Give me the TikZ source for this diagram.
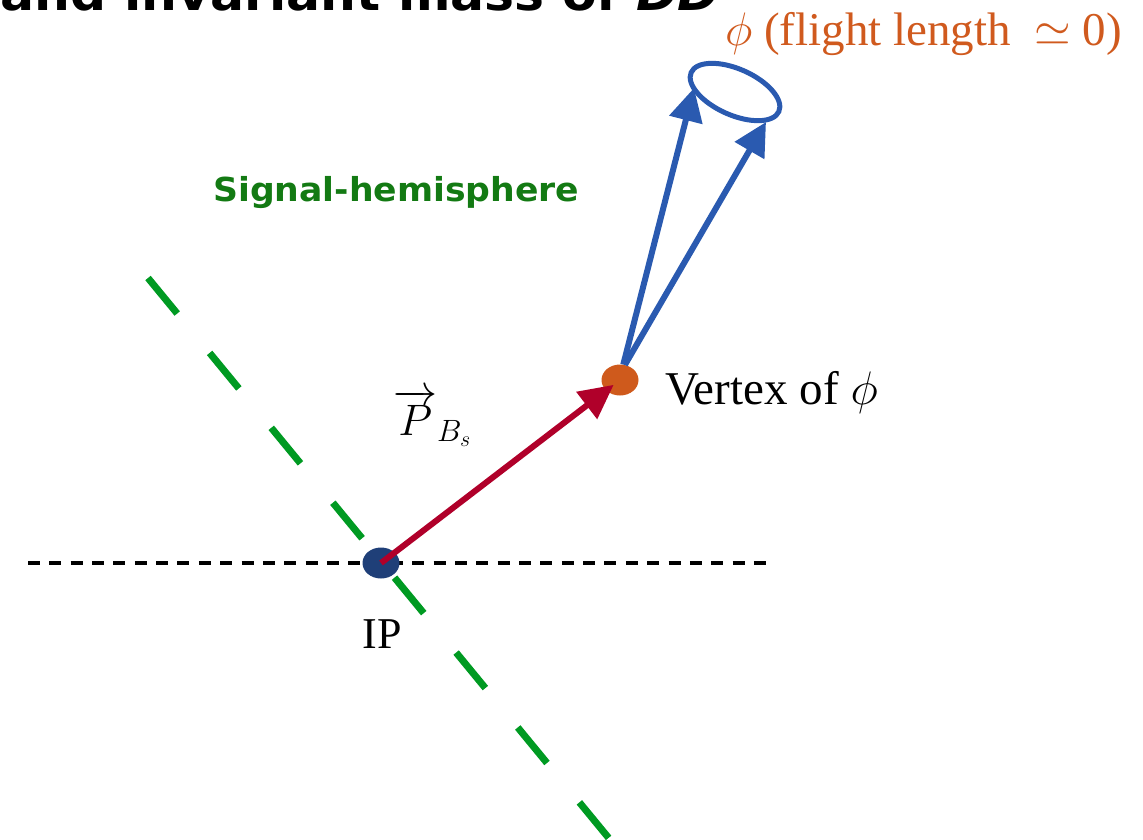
\RequirePackage{fix-cm}
\documentclass[tikz,border=0pt]{standalone}
\usepackage{fontspec}
\setmainfont{Liberation Serif}
\newfontfamily\comic[FakeStretch=1.05]{DejaVu Sans}
\usetikzlibrary{arrows.meta,shapes.geometric}
\definecolor{navydot}{HTML}{1F3F78}
\definecolor{orangedot}{HTML}{CF5A1C}
\definecolor{orangetxt}{HTML}{D05A1E}
\definecolor{redarr}{HTML}{B0002A}
\definecolor{bluearr}{HTML}{2A5AB0}
\definecolor{greenline}{HTML}{009A22}
\definecolor{greentxt}{HTML}{137A13}
\tikzset{
  dotnode/.style={ellipse, minimum width=37pt, minimum height=31pt, inner sep=0pt},
  bigtext/.style={font=\fontsize{47}{54}\selectfont, inner sep=0pt},
  redarrow/.style={draw=redarr, line width=6pt, -{Triangle[length=34pt,width=33pt]}},
  bluearrow/.style={draw=bluearr, line width=6pt, -{Triangle[length=33pt,width=33pt]}},
  conering/.style={ellipse, draw=bluearr, line width=5pt, minimum width=96pt, minimum height=46pt, inner sep=0pt},
  greendash/.style={draw=greenline, line width=7pt, dash pattern=on 46pt off 51pt},
  blackdash/.style={draw=black, line width=4pt, dash pattern=on 12pt off 9.35pt},
}
\begin{document}
\begin{tikzpicture}[x=1pt,y=-1pt]
\useasboundingbox (0,0) rectangle (1143,839);
\begin{scope}
\clip (0,0) rectangle (1143,839);
\node[anchor=base east, inner sep=0pt, font=\comic\bfseries\fontsize{48}{54}\selectfont] (title) at (720,10) {and invariant mass of \textit{DD}};
% reference lines
\coordinate (h1) at (28,563);
\coordinate (h2) at (766,563);
\draw[blackdash] (h1) -- (h2);
\coordinate (g1) at (148,278);
\coordinate (g2) at (612,842);
\draw[greendash] (g1) -- (g2);
\end{scope}
% dots
\node[dotnode, fill=navydot] (ip) at (381,563) {};
\node[dotnode, fill=orangedot] (vtx) at (620,380) {};
% cone ellipse
\node[conering, rotate=-24] (cone) at (735,92) {};
\coordinate (tipL) at (694,88);
\coordinate (tipR) at (766,122);
% arrows
\draw[redarrow, shorten >=8pt] (ip.center) -- (vtx.center);
\draw[bluearrow] (vtx.78) -- (tipL);
\draw[bluearrow] (vtx.72) -- (tipR);
% labels
\node[bigtext, anchor=base, font=\fontsize{44}{50}\selectfont] (iplab) at (382,648) {IP};
\node[bigtext, anchor=base west] (vtxlab) at (665,404) {Vertex of $\phi$};
\node[bigtext, anchor=base west, font=\fontsize{44}{50}\selectfont] (plab) at (393,435) {$\overrightarrow{P}_{B_s}$};
\node[bigtext, anchor=base west, text=orangetxt] (flab) at (725,45) {$\phi$ (flight length \ $\simeq$ 0)};
\node[anchor=base west, inner sep=0pt, text=greentxt, font=\comic\bfseries\fontsize{33}{40}\selectfont] (sig) at (213,201) {Signal-hemisphere};
\end{tikzpicture}
\end{document}
